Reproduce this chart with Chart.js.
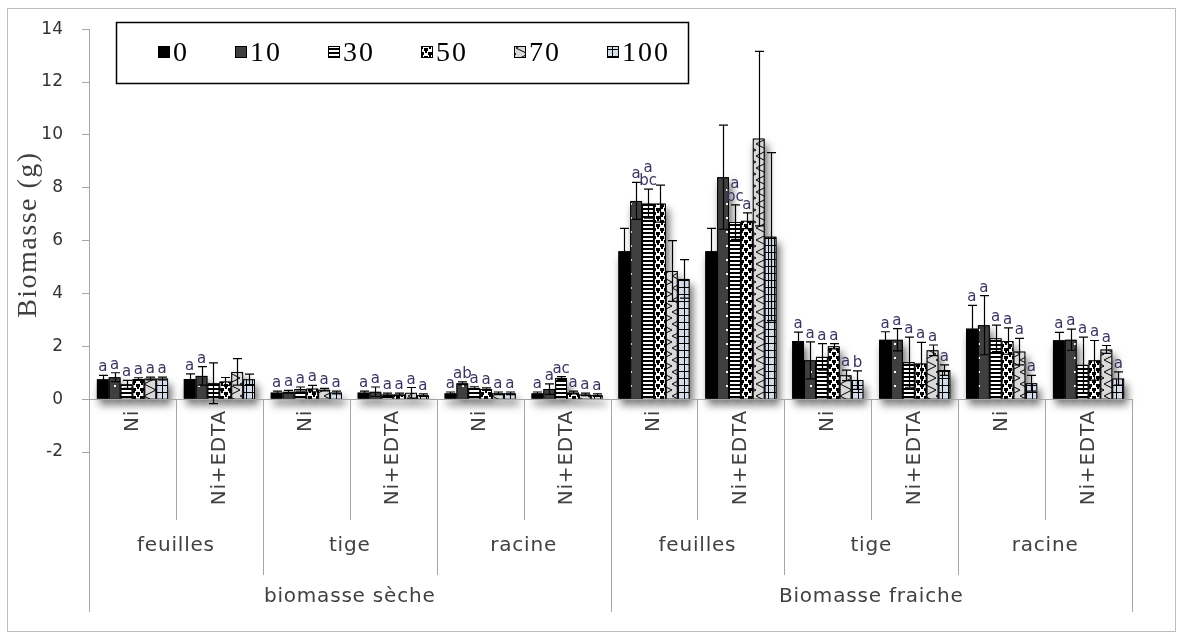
<!DOCTYPE html>
<html>
<head>
<meta charset="utf-8">
<script src="https://cdn.jsdelivr.net/npm/chart.js@4.4.1/dist/chart.umd.min.js"></script>
<style>
  html, body { margin: 0; padding: 0; background: #fff; }
  canvas { display: block; }
</style>
</head>
<body>
<canvas id="chart" width="1184" height="639"></canvas>
<script>
// Category hierarchy (innermost first)
const treatments = ['Ni', 'Ni+EDTA'];
const organs = ['feuilles', 'tige', 'racine'];
const biomassTypes = ['biomasse sèche', 'Biomasse fraiche'];

// Ni doses (series)
const doses = ['0', '10', '30', '50', '70', '100'];

// Mean biomass (g), one value per category, in category order
const dose0   = [0.75, 0.76, 0.25, 0.25, 0.22, 0.22, 5.60, 5.60, 2.20, 2.25, 2.67, 2.23];
const dose10  = [0.83, 0.88, 0.28, 0.28, 0.60, 0.38, 7.50, 8.40, 1.47, 2.25, 2.80, 2.25];
const dose30  = [0.56, 0.60, 0.38, 0.18, 0.42, 0.80, 7.40, 6.70, 1.60, 1.40, 2.30, 1.30];
const dose50  = [0.76, 0.67, 0.40, 0.18, 0.38, 0.25, 7.40, 6.75, 2.00, 1.35, 2.20, 1.47];
const dose70  = [0.78, 1.03, 0.36, 0.24, 0.22, 0.18, 4.85, 9.86, 0.90, 1.85, 1.80, 1.88];
const dose100 = [0.78, 0.75, 0.25, 0.15, 0.22, 0.15, 4.55, 6.15, 0.72, 1.10, 0.60, 0.78];

// Standard deviations
const err0   = [0.15, 0.20, 0.05, 0.05, 0.05, 0.05, 0.86, 0.86, 0.34, 0.30, 0.88, 0.30];
const err10  = [0.17, 0.35, 0.05, 0.18, 0.05, 0.20, 0.70, 1.97, 0.70, 0.42, 1.12, 0.40];
const err30  = [0.15, 0.77, 0.08, 0.05, 0.05, 0.05, 0.55, 0.65, 0.50, 0.95, 0.50, 1.05];
const err50  = [0.05, 0.15, 0.12, 0.05, 0.05, 0.05, 0.70, 0.30, 0.10, 0.80, 0.50, 0.75];
const err70  = [0.05, 0.50, 0.05, 0.20, 0.05, 0.05, 1.15, 3.30, 0.20, 0.20, 0.50, 0.15];
const err100 = [0.05, 0.20, 0.05, 0.05, 0.05, 0.05, 0.73, 3.18, 0.35, 0.20, 0.30, 0.25];

// Significance letters ('\n' stacks two lines)
const sig0   = ['a', 'a', 'a', 'a', 'a',  'a',  '',  '',       'a', 'a', 'a', 'a'];
const sig10  = ['a', 'a', 'a', 'a', 'ab', 'a',  'a', '',       'a', 'a', 'a', 'a'];
const sig30  = ['a', '',  'a', 'a', 'a',  'ac', 'a\nbc', 'a\nbc', 'a', 'a', 'a', 'a'];
const sig50  = ['a', '',  'a', 'a', 'a',  'a',  '',  'a',      'a', 'a', 'a', 'a'];
const sig70  = ['a', '',  'a', 'a', 'a',  'a',  '',  '',       'a', 'a', 'a', 'a'];
const sig100 = ['a', '',  'a', 'a', 'a',  'a',  '',  '',       'b', 'a', 'a', 'a'];

// Value axis
const yMin = -2, yMax = 14, yStep = 2;
const yTitle = 'Biomasse (g)';

const seriesValues = [dose0, dose10, dose30, dose50, dose70, dose100];
const seriesErrors = [err0, err10, err30, err50, err70, err100];
const seriesLetters = [sig0, sig10, sig30, sig50, sig70, sig100];

// Flat category list: type > organ > treatment
const categories = [];
biomassTypes.forEach(t => organs.forEach(o => treatments.forEach(tr => categories.push({ type: t, organ: o, treatment: tr }))));
const labels = categories.map(c => c.type + ' / ' + c.organ + ' / ' + c.treatment);

// Fill patterns for the six doses
function tile(w, h, paint) {
  const c = document.createElement('canvas');
  c.width = w; c.height = h;
  const g = c.getContext('2d');
  paint(g, w, h);
  return g.createPattern(c, 'repeat');
}
const fills = [
  '#000000',
  tile(12, 14, (g, w, h) => { g.fillStyle = '#3f3f3f'; g.fillRect(0, 0, w, h); g.fillStyle = '#ffffff'; g.fillRect(6, 7, 2, 2); }),
  tile(4, 4, (g, w, h) => { g.fillStyle = '#ffffff'; g.fillRect(0, 0, w, h); g.fillStyle = '#000000'; g.fillRect(0, 0, w, 2); }),
  tile(8, 8, (g, w, h) => {
    g.fillStyle = '#ffffff'; g.fillRect(0, 0, w, h);
    g.fillStyle = '#000000';
    g.fillRect(0, 0, 4, 3); g.fillRect(4, 4, 4, 3); g.fillRect(1, 3, 2, 2); g.fillRect(5, 7, 2, 1); g.fillRect(5, 0, 2, 1);
  }),
  tile(12, 12, (g, w, h) => {
    g.fillStyle = '#d9d9d9'; g.fillRect(0, 0, w, h);
    g.strokeStyle = '#000000'; g.lineWidth = 1;
    g.beginPath(); g.moveTo(0, 0); g.lineTo(12, 6); g.lineTo(0, 12); g.stroke();
  }),
  tile(6, 7, (g, w, h) => {
    g.fillStyle = '#d3dbe8'; g.fillRect(0, 0, w, h);
    g.fillStyle = '#000000'; g.fillRect(0, 0, w, 1); g.fillRect(0, 0, 1, h);
  })
];

const textColor = '#404040';
const axisColor = '#a6a6a6';
const letterColor = '#3a3560';

// Soft drop shadow under every bar
const barShadow = {
  id: 'barShadow',
  beforeDatasetsDraw(chart) {
    const ctx = chart.ctx;
    ctx.save();
    ctx.shadowColor = 'rgba(0,0,0,0.6)';
    ctx.shadowBlur = 8;
    ctx.shadowOffsetX = 3;
    ctx.shadowOffsetY = 6;
    ctx.fillStyle = '#000';
    chart.data.datasets.forEach((ds, di) => {
      chart.getDatasetMeta(di).data.forEach(bar => {
        const p = bar.getProps(['x', 'y', 'base', 'width'], true);
        ctx.fillRect(p.x - p.width / 2, p.y, p.width, p.base - p.y);
      });
    });
    ctx.restore();
    // horizontal axis through zero
    const y0 = Math.round(chart.scales.y.getPixelForValue(0)) + 0.5;
    ctx.save();
    ctx.strokeStyle = axisColor; ctx.lineWidth = 1;
    ctx.beginPath(); ctx.moveTo(chart.chartArea.left, y0); ctx.lineTo(chart.chartArea.right, y0); ctx.stroke();
    ctx.restore();
  }
};

// Error bars (both directions) and significance letters
const errorBars = {
  id: 'errorBars',
  afterDatasetsDraw(chart) {
    const ctx = chart.ctx, ys = chart.scales.y;
    ctx.save();
    ctx.strokeStyle = '#000'; ctx.lineWidth = 1.2;
    const tops = [];
    chart.data.datasets.forEach((ds, di) => {
      chart.getDatasetMeta(di).data.forEach((bar, i) => {
        const v = ds.data[i], e = ds.errors[i];
        const x = Math.round(bar.x) + 0.5;
        const hi = ys.getPixelForValue(v + e), lo = ys.getPixelForValue(v - e);
        ctx.beginPath();
        ctx.moveTo(x, hi); ctx.lineTo(x, lo);
        ctx.moveTo(x - 4.5, hi); ctx.lineTo(x + 4.5, hi);
        ctx.moveTo(x - 4.5, lo); ctx.lineTo(x + 4.5, lo);
        ctx.stroke();
        tops.push({ x: bar.x, y: hi, text: ds.letters[i] });
      });
    });
    ctx.fillStyle = letterColor;
    ctx.font = '15px "DejaVu Sans"';
    ctx.textAlign = 'center';
    ctx.textBaseline = 'alphabetic';
    tops.forEach(t => {
      if (!t.text) return;
      const lines = t.text.split('\n');
      lines.reverse().forEach((ln, k) => ctx.fillText(ln, t.x, t.y - 4 - k * 13));
    });
    ctx.restore();
  }
};

// Multi-level category axis, value-axis title, legend and frame
const decorations = {
  id: 'decorations',
  afterDraw(chart) {
    const ctx = chart.ctx, xs = chart.scales.x, ys = chart.scales.y, area = chart.chartArea;
    const y0 = Math.round(ys.getPixelForValue(0));
    const n = categories.length;
    const step = xs.getPixelForValue(1) - xs.getPixelForValue(0);
    const edge = k => xs.getPixelForValue(0) - step / 2 + k * step;

    ctx.save();
    // dividers
    ctx.strokeStyle = axisColor; ctx.lineWidth = 1;
    for (let k = 0; k <= n; k++) {
      const len = k % 6 === 0 ? 213 : (k % 2 === 0 ? 176 : 121);
      const x = Math.round(edge(k)) + 0.5;
      ctx.beginPath(); ctx.moveTo(x, y0); ctx.lineTo(x, y0 + len); ctx.stroke();
    }
    ctx.fillStyle = textColor;
    ctx.font = '20px "DejaVu Sans"';
    ctx.letterSpacing = '0.8px';
    // treatment labels, rotated
    categories.forEach((c, i) => {
      ctx.save();
      ctx.translate(xs.getPixelForValue(i), y0 + 11);
      ctx.rotate(-Math.PI / 2);
      ctx.textAlign = 'right'; ctx.textBaseline = 'middle';
      ctx.fillText(c.treatment, 0, 0);
      ctx.restore();
    });
    // organ and biomass-type labels
    ctx.textAlign = 'center'; ctx.textBaseline = 'middle';
    for (let g = 0; g < n / 2; g++) {
      ctx.fillText(categories[g * 2].organ, (edge(g * 2) + edge(g * 2 + 2)) / 2, y0 + 147);
    }
    for (let g = 0; g < n / 6; g++) {
      ctx.fillText(categories[g * 6].type, (edge(g * 6) + edge(g * 6 + 6)) / 2, y0 + 198);
    }
    ctx.restore();

    // value-axis title
    ctx.save();
    ctx.fillStyle = textColor;
    ctx.font = '28px "Liberation Serif"';
    ctx.letterSpacing = '1.5px';
    ctx.translate(29, (area.top + area.bottom) / 2 - 6);
    ctx.rotate(-Math.PI / 2);
    ctx.textAlign = 'center'; ctx.textBaseline = 'middle';
    ctx.fillText(yTitle, 0, 0);
    ctx.restore();

    // legend
    ctx.save();
    ctx.strokeStyle = '#000'; ctx.lineWidth = 1.5;
    ctx.strokeRect(116.5, 22.5, 572, 61);
    ctx.font = '28px "Liberation Serif"';
    ctx.letterSpacing = '2px';
    ctx.textBaseline = 'middle';
    ctx.textAlign = 'left';
    let lx = 158;
    const ly = 52;
    chart.data.datasets.forEach(ds => {
      ctx.fillStyle = ds.backgroundColor;
      ctx.fillRect(lx, ly - 6, 12, 12);
      ctx.lineWidth = 1; ctx.strokeStyle = '#000';
      ctx.strokeRect(lx + 0.5, ly - 5.5, 11, 11);
      ctx.fillStyle = '#000';
      ctx.fillText(ds.label, lx + 15, ly + 2);
      lx += 16 + ctx.measureText(ds.label).width + 45;
    });
    ctx.restore();

    // outer frame
    ctx.save();
    ctx.strokeStyle = '#bdbdbd'; ctx.lineWidth = 1;
    ctx.strokeRect(7.5, 8.5, 1168, 623);
    ctx.restore();
  }
};

new Chart(document.getElementById('chart'), {
  type: 'bar',
  data: {
    labels: labels,
    datasets: doses.map((d, i) => ({
      label: d,
      data: seriesValues[i],
      errors: seriesErrors[i],
      letters: seriesLetters[i],
      backgroundColor: fills[i],
      borderColor: '#000000',
      borderWidth: 1
    }))
  },
  options: {
    responsive: false,
    animation: false,
    devicePixelRatio: 1,
    layout: { padding: { top: 28, right: 52, bottom: 187, left: 8 } },
    datasets: { bar: { categoryPercentage: 0.82, barPercentage: 1.0 } },
    plugins: { legend: { display: false }, tooltip: { enabled: false } },
    scales: {
      x: { display: false },
      y: {
        min: yMin, max: yMax,
        ticks: { stepSize: yStep, color: '#333333', padding: 19, font: { family: 'DejaVu Sans', size: 17 } },
        grid: { drawOnChartArea: false, drawTicks: true, tickLength: 7, color: axisColor },
        border: { display: true, color: axisColor },
        afterFit(scale) { scale.width = 81; }
      }
    }
  },
  plugins: [barShadow, errorBars, decorations]
});
</script>
</body>
</html>
